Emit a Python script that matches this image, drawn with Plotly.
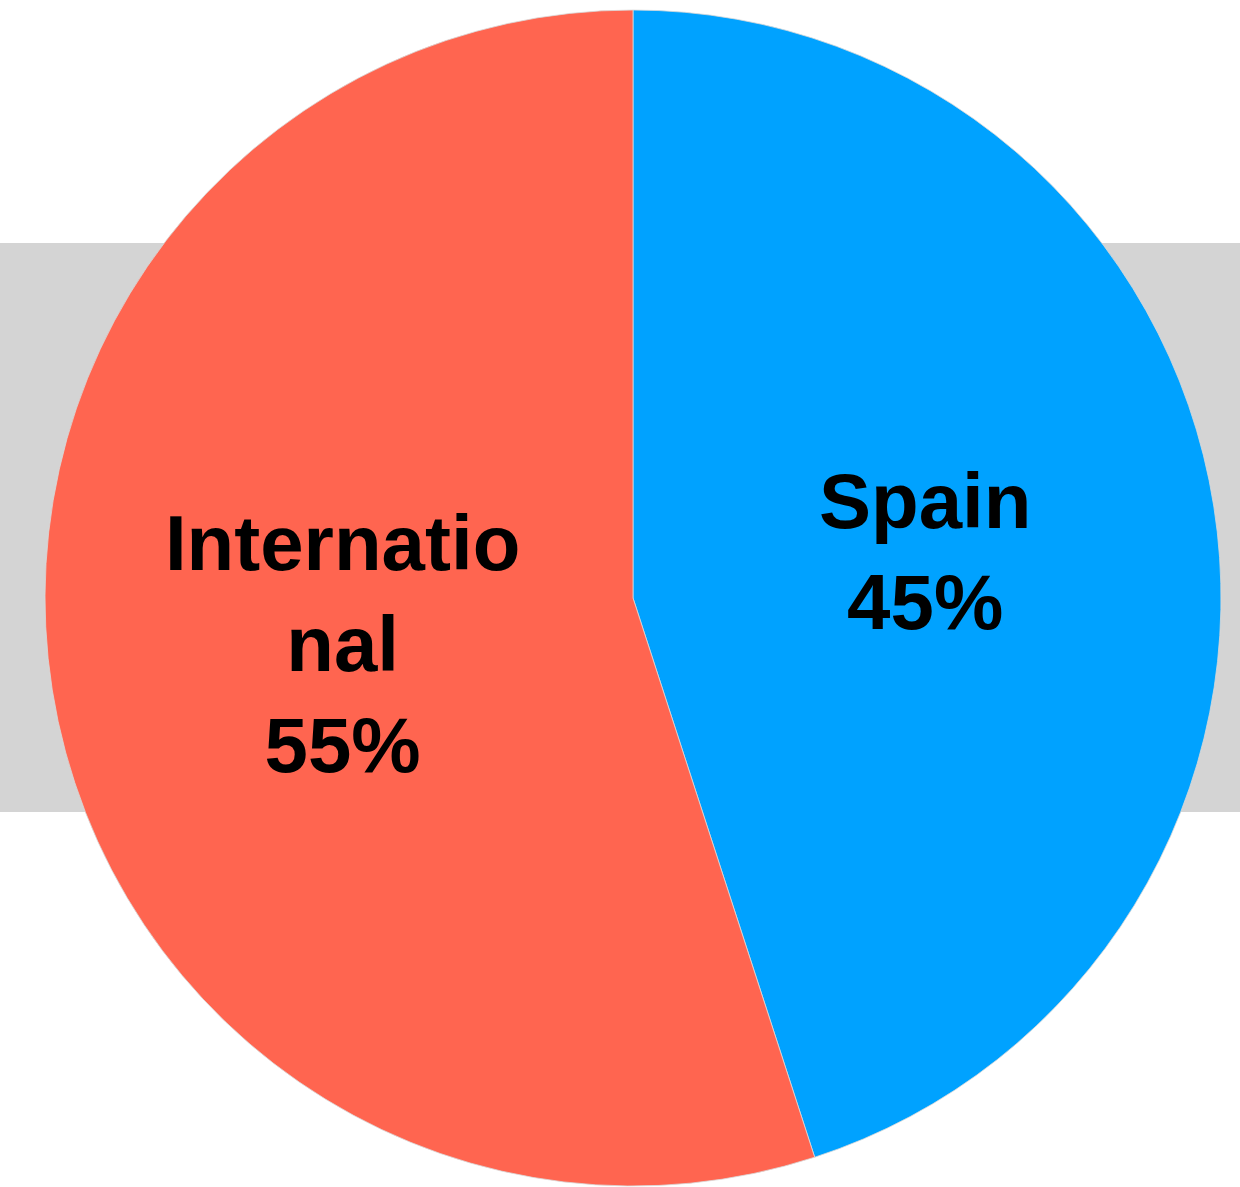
import plotly.graph_objects as go

labels = ["Spain", "International"]
display_labels = ["Spain", "Internatio<br>nal"]
values = [45, 55]
colors = ["#00A2FF", "#FF6550"]

W, H = 1240, 1187

fig = go.Figure(go.Pie(
    labels=labels,
    values=values,
    text=display_labels,
    texttemplate="<b>%{text}<br>%{percent:.0%}</b>",
    textposition="inside",
    insidetextorientation="horizontal",
    sort=False,
    direction="clockwise",
    rotation=0,
    marker=dict(colors=colors, line=dict(color="#d9d9d9", width=0.8)),
    textfont=dict(family="Liberation Sans, Arial, sans-serif", size=78, color="black"),
    showlegend=False,
    hoverinfo="label+percent",
    domain=dict(x=[45 / W, 1221 / W], y=[1 - 1186 / H, 1 - 10 / H]),
))

fig.add_shape(type="rect", xref="paper", yref="paper",
              x0=0, x1=1, y0=1 - 812 / H, y1=1 - 243 / H,
              fillcolor="#D4D4D4", line=dict(width=0), layer="below")

fig.update_layout(
    width=W, height=H,
    margin=dict(l=0, r=0, t=0, b=0),
    paper_bgcolor="white",
    plot_bgcolor="white",
    uniformtext=dict(minsize=78, mode="show"),
)

fig.write_html(
    "out.html",
    config={"displayModeBar": False},
    post_script="document.body.style.margin='0';document.body.style.padding='0';document.body.style.overflow='hidden';",
)
